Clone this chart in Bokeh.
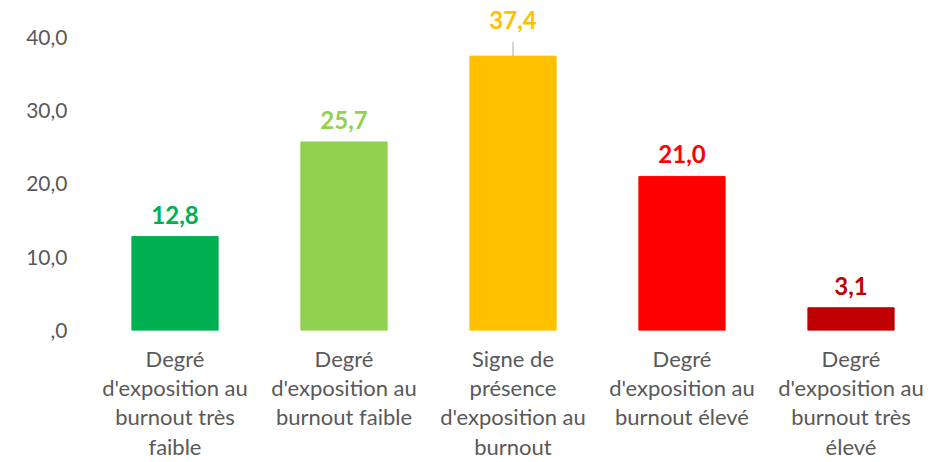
from bokeh.plotting import figure
from bokeh.models import ColumnDataSource, FixedTicker, CustomJSTickFormatter
from bokeh.core.properties import value
from bokeh.embed import file_html
from bokeh.resources import INLINE

categories = [
    "Degré\nd'exposition au\nburnout très\nfaible",
    "Degré\nd'exposition au\nburnout faible",
    "Signe de\nprésence\nd'exposition au\nburnout",
    "Degré\nd'exposition au\nburnout élevé",
    "Degré\nd'exposition au\nburnout très\nélevé",
]
values = [12.8, 25.7, 37.4, 21.0, 3.1]
labels = ["12,8", "25,7", "37,4", "21,0", "3,1"]
colors = ["#00B050", "#92D050", "#FFC000", "#FF0000", "#C00000"]
label_offsets = [-13, -13, -27, -13, -13]
y_ticks = [0, 10, 20, 30, 40]

FONT = "Lato"

src = ColumnDataSource(dict(cat=categories, val=values, lab=labels, col=colors, off=label_offsets))

p = figure(width=943, height=462, x_range=categories, y_range=(0, 44.3),
           output_backend="svg", toolbar_location=None,
           min_border_left=90, min_border_right=8, min_border_top=5, min_border_bottom=130)
p.outline_line_color = None
p.xgrid.grid_line_color = None
p.ygrid.grid_line_color = None
p.x_range.range_padding = 0

p.vbar(x="cat", top="val", width=0.51, color="col", source=src)

# leader line for the raised label
lead_x = [categories[2]]
p.segment(x0=lead_x, y0=[values[2] + 1.9], x1=lead_x, y1=[values[2]], line_color="#A6A6A6", line_width=1)

p.text(x="cat", y="val", text="lab", text_color="col", source=src, y_offset="off",
       text_align="center", text_baseline="bottom", text_font=value(FONT),
       text_font_style="bold", text_font_size="24px")

p.yaxis.ticker = FixedTicker(ticks=y_ticks)
p.yaxis.formatter = CustomJSTickFormatter(code="return tick == 0 ? ',0' : tick.toFixed(1).replace('.', ',');")
p.yaxis.axis_line_color = None
p.yaxis.major_tick_line_color = None
p.yaxis.minor_tick_line_color = None
p.yaxis.major_label_text_font = FONT
p.yaxis.major_label_text_font_size = "21px"
p.yaxis.major_label_text_color = "#595959"
p.yaxis.major_label_standoff = 17

p.xaxis.axis_line_color = None
p.xaxis.major_tick_line_color = None
p.xaxis.major_tick_out = 0
p.xaxis.major_tick_in = 0
p.xaxis.major_label_text_font = FONT
p.xaxis.major_label_text_font_size = "22px"
p.xaxis.major_label_text_color = "#595959"
p.xaxis.major_label_text_line_height = 1.09
p.xaxis.major_label_standoff = 14

open("out.html", "w").write(file_html(p, INLINE))
